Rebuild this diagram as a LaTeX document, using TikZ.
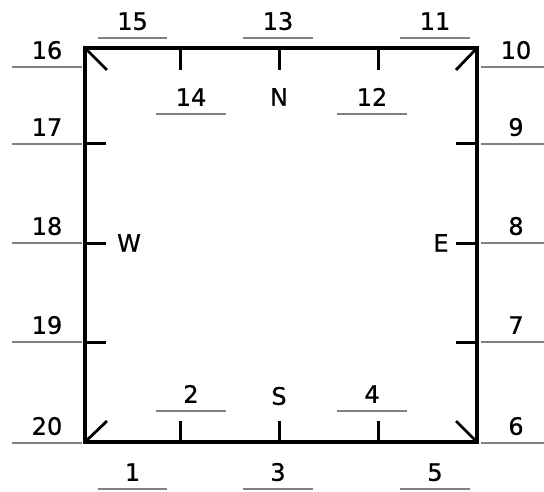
\documentclass[tikz,border=0pt]{standalone}
\usepackage{fontspec}
\newfontfamily\labfont[FakeBold=0.8]{DejaVu Sans}
\begin{document}
\begin{tikzpicture}[x=1pt,y=-1pt,
  wall/.style={line width=3.6pt,line join=miter},
  tick/.style={line width=3pt},
  diag/.style={line width=2.8pt},
  uline/.style={draw=black!50,line width=2.4pt},
  num/.style={font=\labfont\fontsize{24}{28}\selectfont,anchor=south,
    inner xsep=0pt,inner ysep=8pt,minimum width=69pt,text depth=0pt,
    append after command={(\tikzlastnode.south west) edge[uline] (\tikzlastnode.south east)}},
  dir/.style={font=\labfont\fontsize{24}{28}\selectfont,inner sep=0pt}]
  \useasboundingbox (0,0) rectangle (544,492);
  % frame
  \coordinate (nw) at (85,48);
  \coordinate (ne) at (477,48);
  \coordinate (se) at (477,442);
  \coordinate (sw) at (85,442);
  \draw[wall] (nw) -- (ne) -- (se) -- (sw) -- cycle;
  % ticks
  \foreach \x in {180,279,378} {
    \draw[tick] (\x,48) -- ++(0,22);
    \draw[tick] (\x,442) -- ++(0,-21);
  }
  \foreach \y in {144,243,342} {
    \draw[tick] (85,\y) -- ++(21,0);
    \draw[tick] (477,\y) -- ++(-21,0);
  }
  \draw[diag] (nw) -- ++(22,22);
  \draw[diag] (ne) -- ++(-21,22);
  \draw[diag] (se) -- ++(-21,-21);
  \draw[diag] (sw) -- ++(22,-21);
  % numbers
  \node[num] (n15) at (132.5,38) {15};
  \node[num] (n13) at (278,38) {13};
  \node[num] (n11) at (435,38) {11};
  \node[num] (n14) at (191,114) {14};
  \node[num] (n12) at (372,114) {12};
  \node[num] (n2) at (191,411) {2};
  \node[num] (n4) at (372,411) {4};
  \node[num] (n1) at (132.5,489) {1};
  \node[num] (n3) at (278,489) {3};
  \node[num] (n5) at (435,489) {5};
  \node[num] (n16) at (47,67) {16};
  \node[num] (n17) at (47,144) {17};
  \node[num] (n18) at (47,243) {18};
  \node[num] (n19) at (47,342) {19};
  \node[num] (n20) at (47,443) {20};
  \node[num] (n10) at (516,67) {10};
  \node[num] (n9) at (516,144) {9};
  \node[num] (n8) at (516,243) {8};
  \node[num] (n7) at (516,342) {7};
  \node[num] (n6) at (516,443) {6};
  % compass
  \node[dir] (north) at (279,97) {N};
  \node[dir] (south) at (279,396) {S};
  \node[dir] (west) at (129,243) {W};
  \node[dir] (east) at (441,243) {E};
\end{tikzpicture}
\end{document}
